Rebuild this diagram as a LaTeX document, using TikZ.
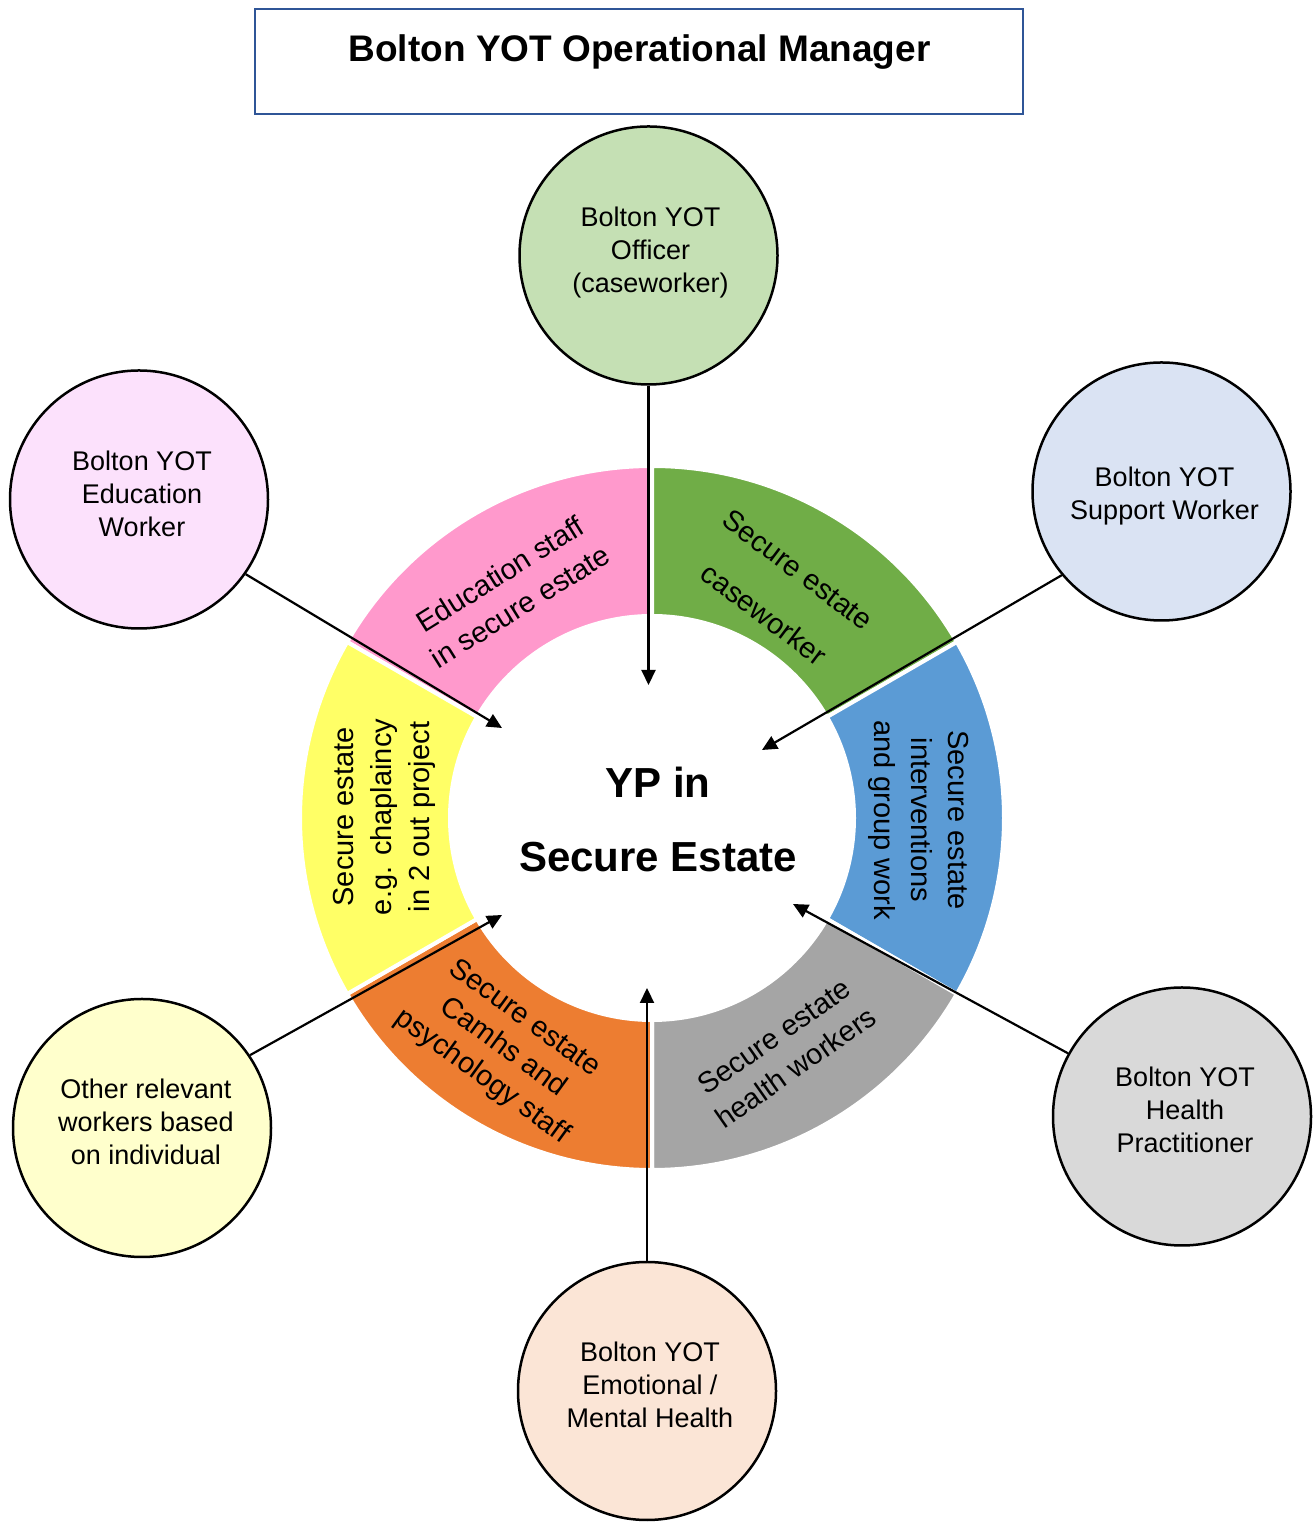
\documentclass[tikz,border=0pt]{standalone}
\usepackage{fontspec}
\setmainfont{Liberation Sans}
\usetikzlibrary{arrows.meta}
\definecolor{segpink}{HTML}{FF99CC}
\definecolor{seggreen}{HTML}{70AD47}
\definecolor{segblue}{HTML}{5B9BD5}
\definecolor{seggray}{HTML}{A5A5A5}
\definecolor{segorange}{HTML}{ED7D31}
\definecolor{segyellow}{HTML}{FFFF66}
\definecolor{cgreen}{HTML}{C5E0B4}
\definecolor{cblue}{HTML}{DAE3F3}
\definecolor{cpink}{HTML}{FCE1FC}
\definecolor{cgray}{HTML}{D9D9D9}
\definecolor{cyellow}{HTML}{FFFFCC}
\definecolor{cpeach}{HTML}{FBE5D6}
\definecolor{titleblue}{HTML}{2F5597}
\begin{document}
\begin{tikzpicture}[x=1pt,y=1pt,
  circ/.style={circle, draw=black, line width=2.5pt, minimum size=258pt, inner sep=0pt},
  ctext/.style={font=\fontsize{27}{33}\selectfont, align=center, text depth=0pt, inner sep=0pt},
  segtext/.style={font=\fontsize{29}{37}\selectfont, align=center, inner sep=0pt},
  link/.style={line width=2.2pt, -{Triangle[length=15pt,width=14pt]}},
  seg/.style={draw=white, line width=4pt}
]
\useasboundingbox (0,0) rectangle (1316,1523);

% title
\node[draw=titleblue, line width=2.5pt, minimum width=768pt, minimum height=105pt, inner sep=0pt] (titlebox) at (639,1461.5) {};
\node[font=\fontsize{37}{44}\selectfont\bfseries, inner sep=0pt] (title) at (639.5,1471) {Bolton YOT Operational Manager};

% ring
\coordinate (ctr) at (652,705);
\begin{scope}[shift={(652,705)}]
\path[seg, fill=segpink]   (90:352)  arc[start angle=90,  end angle=150, radius=352] -- (150:202) arc[start angle=150, end angle=90,  radius=202] -- cycle;
\path[seg, fill=seggreen]  (30:352)  arc[start angle=30,  end angle=90,  radius=352] -- (90:202)  arc[start angle=90,  end angle=30,  radius=202] -- cycle;
\path[seg, fill=segblue]   (-30:352) arc[start angle=-30, end angle=30,  radius=352] -- (30:202)  arc[start angle=30,  end angle=-30, radius=202] -- cycle;
\path[seg, fill=seggray]   (-90:352) arc[start angle=-90, end angle=-30, radius=352] -- (-30:202) arc[start angle=-30, end angle=-90, radius=202] -- cycle;
\path[seg, fill=segorange] (210:352) arc[start angle=210, end angle=270, radius=352] -- (270:202) arc[start angle=270, end angle=210, radius=202] -- cycle;
\path[seg, fill=segyellow] (150:352) arc[start angle=150, end angle=210, radius=352] -- (210:202) arc[start angle=210, end angle=150, radius=202] -- cycle;
\end{scope}

% segment texts
\node[segtext, rotate=32, font=\fontsize{29}{38}\selectfont] (tpink) at (510,933) {Education staff\\in secure estate};
\node[segtext, rotate=-37, font=\fontsize{29}{56}\selectfont] (tgreen) at (781,931) {Secure estate\\caseworker};
\node[segtext, rotate=-90] (tblue) at (919,703) {Secure estate\\interventions\\and group work};
\node[segtext, rotate=35, font=\fontsize{29}{38}\selectfont] (tgray) at (785,471) {Secure estate\\health workers};
\node[segtext, rotate=-36, font=\fontsize{29}{36}\selectfont] (torange) at (503,475) {Secure estate\\Camhs and\\psychology staff};
\node[segtext, rotate=90, font=\fontsize{29}{38}\selectfont] (tyellow) at (384,706) {Secure estate\\e.g. chaplaincy\\in 2 out project};

% centre
\node[font=\fontsize{42}{74}\selectfont\bfseries, align=center, inner sep=0pt] (yp) at (658,704) {YP in\\Secure Estate};

% circles
\node[circ, fill=cgreen, label={[ctext, xshift=2, yshift=5.5]center:{Bolton YOT\\Officer\\(caseworker)}}] (c1) at (648.5,1267.5) {};
\node[circ, fill=cblue, label={[ctext, xshift=3, yshift=-2]center:{Bolton YOT\\Support Worker}}] (c2) at (1161.5,1031.5) {};
\node[circ, fill=cpink, label={[ctext, xshift=3, yshift=5.5]center:{Bolton YOT\\Education\\Worker}}] (c3) at (139,1023.5) {};
\node[circ, fill=cgray, label={[ctext, xshift=3, yshift=6.5]center:{Bolton YOT\\Health\\Practitioner}}] (c4) at (1182,406.5) {};
\node[circ, fill=cyellow, label={[ctext, xshift=4, yshift=6]center:{Other relevant\\workers based\\on individual}}] (c5) at (142,395) {};
\node[circ, fill=cpeach, label={[ctext, xshift=3, yshift=6]center:{Bolton YOT\\Emotional /\\Mental Health}}] (c6) at (647,132) {};

% arrow targets
\coordinate (t1) at (648.5,838);
\coordinate (t2) at (762,773);
\coordinate (t3) at (502,795);
\coordinate (t4) at (793,619);
\coordinate (t5) at (502,608);
\coordinate (t6) at (647,535);

\draw[link] (c1.south) -- (t1);
\draw[link] (c2.220) -- (t2);
\draw[link] (c3.325) -- (t3);
\draw[link] (c4.151) -- (t4);
\draw[link] (c5.34) -- (t5);
\draw[link] (c6.north) -- (t6);
\end{tikzpicture}
\end{document}
